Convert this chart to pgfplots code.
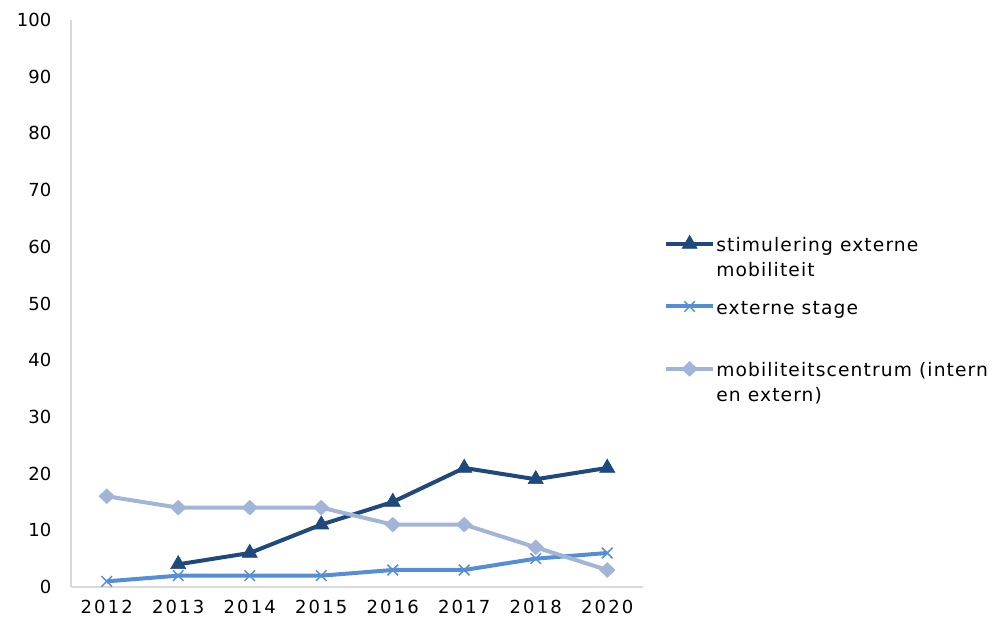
\documentclass[border=0pt]{standalone}
\usepackage{fontspec}
\setmainfont{DejaVu Sans}
\usepackage{pgfplots}
\pgfplotsset{compat=1.18}
\definecolor{cdark}{RGB}{31,73,125}
\definecolor{cmid}{RGB}{85,142,213}
\definecolor{clight}{RGB}{163,181,215}
\definecolor{caxis}{RGB}{217,217,217}
\newcommand{\lent}[2]{\parbox[t]{230pt}{\raggedright\strut #1\strut\\\strut #2\strut}}
\begin{document}
\begin{tikzpicture}
\useasboundingbox (-53.25pt,-29.25pt) rectangle (696.75pt,440.25pt);
\begin{axis}[
  at={(0,0)}, anchor=south west,
  scale only axis, width=429pt, height=425.25pt,
  font=\fontsize{13.5pt}{18.75pt}\selectfont,
  /pgf/number format/assume math mode=true,
  xmin=-0.5, xmax=7.5, ymin=0, ymax=100,
  xtick={0,...,7},
  xticklabels={2012,2013,2014,2015,2016,2017,2018,2020},
  ytick={0,10,...,100},
  major tick length=0pt,
  axis x line*=bottom, axis y line*=left,
  axis line style={draw=caxis, line width=0.9pt},
  yticklabel style={xshift=-11.25pt},
  xticklabel style={yshift=-6pt, font=\fontsize{13.5pt}{18.75pt}\selectfont\addfontfeature{LetterSpace=12}},
  clip=false,
  legend cell align=left,
  legend style={draw=none, fill=none, at={(1,0.6256)}, xshift=16pt, yshift=-1.5pt, anchor=north west,
    inner sep=0pt, outer sep=0pt, row sep=32.2pt, column sep=1pt, nodes={inner sep=0pt},
    font=\fontsize{14pt}{18.75pt}\selectfont\addfontfeature{LetterSpace=6}},
  legend image code/.code={\draw[mark repeat=2,mark phase=2,#1] plot coordinates {(0pt,0pt)(17.5pt,0pt)(35pt,0pt)};},
]
\addplot[cdark, line width=3pt, mark=triangle*, mark size=6.5pt, mark options={solid, line width=0.5pt}]
  coordinates {(1,4)(2,6)(3,11)(4,15)(5,21)(6,19)(7,21)};
\addlegendentry{\lent{stimulering externe}{mobiliteit}}
\addplot[cmid, line width=3pt, mark=x, mark size=5.6pt, mark options={solid, line width=1.1pt}]
  coordinates {(0,1)(1,2)(2,2)(3,2)(4,3)(5,3)(6,5)(7,6)};
\addlegendentry{\lent{externe stage}{}}
\addplot[clight, line width=3pt, mark=diamond*, mark size=5.5pt, mark options={solid, line width=0.5pt, xscale=1.4}]
  coordinates {(0,16)(1,14)(2,14)(3,14)(4,11)(5,11)(6,7)(7,3)};
\addlegendentry{\lent{mobiliteitscentrum (intern}{en extern)}}
\end{axis}
\end{tikzpicture}
\end{document}
